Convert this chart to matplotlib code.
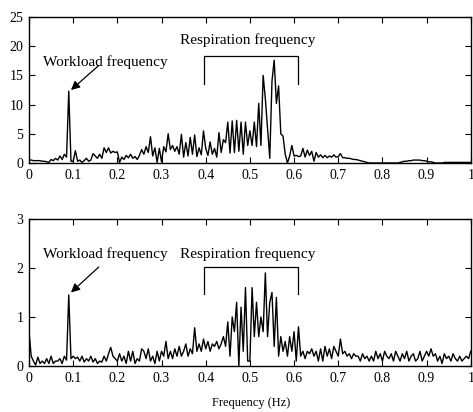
import numpy as np
import matplotlib.pyplot as plt

plt.rcParams['font.family'] = ['Liberation Serif', 'DejaVu Serif']

# frequency grid (Hz), 0.005 Hz resolution
freq = np.linspace(0, 1, 201)

# upper spectrum
top_vals = [
    0.5, 0.5, 0.4, 0.4, 0.4, 0.4, 0.3, 0.3, 0.2, 0.1,
    0.6, 0.4, 0.8, 0.5, 1.2, 0.6, 1.5, 1.0, 12.3, 0.3,
    0.3, 2.1, 0.3, 0.5, 0.1, 0.4, 0.8, 0.3, 0.5, 1.6,
    1.2, 0.8, 1.5, 0.8, 2.6, 1.8, 2.6, 1.7, 2.0, 1.8,
    1.9, 0.1, 1.0, 0.6, 1.3, 0.9, 1.5, 0.8, 1.1, 0.6,
    1.3, 2.3, 1.5, 2.8, 1.8, 4.5, 1.2, 2.6, 0.1, 2.5,
    0.2, 2.8, 1.9, 5.0, 2.3, 3.0, 2.0, 2.8, 1.5, 4.9,
    1.0, 3.5, 1.2, 4.4, 1.5, 4.8, 1.1, 2.6, 1.4, 5.5,
    2.5, 1.3, 3.6, 1.5, 2.5, 1.0, 5.2, 1.8, 4.0, 3.5,
    7.0, 1.7, 7.2, 1.8, 7.3, 2.0, 7.0, 1.5, 7.0, 3.0,
    5.5, 3.0, 7.0, 2.8, 10.2, 3.0, 15.0, 11.0, 6.0, 0.8,
    14.0, 17.6, 10.2, 13.2, 5.0, 4.6, 1.5, 0.0, 1.2, 3.0,
    1.2, 1.3, 1.1, 1.2, 2.5, 1.0, 2.2, 1.3, 2.0, 0.3,
    1.8, 1.0, 1.4, 0.9, 1.3, 0.9, 1.2, 1.0, 1.4, 1.0,
    1.1, 1.6, 0.9, 0.9, 0.8, 0.8, 0.7, 0.6, 0.6, 0.5,
    0.4, 0.3, 0.2, 0.1, 0.0, 0.0, 0.0, 0.0, 0.0, 0.0,
    0.0, 0.0, 0.0, 0.0, 0.0, 0.0, 0.0, 0.0, 0.1, 0.2,
    0.3, 0.3, 0.4, 0.4, 0.5, 0.5, 0.5, 0.5, 0.4, 0.4,
    0.3, 0.2, 0.2, 0.1, 0.0, 0.0, 0.0, 0.0, 0.1, 0.1,
    0.1, 0.1, 0.1, 0.1, 0.1, 0.1, 0.1, 0.1, 0.1, 0.1, 0.1,
]

# lower spectrum
bot_vals = [
    0.7, 0.2, 0.1, 0.02, 0.18, 0.05, 0.1, 0.05, 0.15, 0.05,
    0.2, 0.05, 0.1, 0.1, 0.15, 0.05, 0.2, 0.12, 1.45, 0.15,
    0.2, 0.15, 0.18, 0.1, 0.2, 0.08, 0.15, 0.1, 0.2, 0.08,
    0.15, 0.05, 0.1, 0.08, 0.2, 0.1, 0.25, 0.38, 0.2, 0.15,
    0.1, 0.25, 0.1, 0.2, 0.05, 0.3, 0.1, 0.3, 0.05, 0.15,
    0.1, 0.35, 0.3, 0.15, 0.35, 0.1, 0.2, 0.05, 0.3, 0.1,
    0.3, 0.2, 0.5, 0.15, 0.3, 0.15, 0.35, 0.2, 0.4, 0.2,
    0.3, 0.45, 0.2, 0.35, 0.25, 0.78, 0.3, 0.45, 0.3, 0.55,
    0.35, 0.5, 0.3, 0.45, 0.4, 0.5, 0.35, 0.45, 0.6, 0.4,
    0.9, 0.2, 1.0, 0.7, 1.3, 0.0, 1.2, 0.3, 1.6, 0.1,
    0.1, 1.6, 0.6, 1.3, 0.6, 1.0, 0.7, 1.9, 0.6, 1.3,
    1.5, 0.4, 1.4, 0.2, 0.6, 0.3, 0.5, 0.2, 0.6, 0.3,
    0.7, 0.1, 0.8, 0.2, 0.3, 0.15, 0.3, 0.25, 0.35, 0.2,
    0.3, 0.1, 0.35, 0.1, 0.4, 0.2, 0.35, 0.15, 0.4, 0.3,
    0.2, 0.55, 0.25, 0.3, 0.2, 0.25, 0.15, 0.25, 0.2, 0.2,
    0.1, 0.25, 0.15, 0.2, 0.1, 0.2, 0.1, 0.3, 0.15, 0.25,
    0.1, 0.3, 0.2, 0.15, 0.25, 0.1, 0.3, 0.2, 0.1, 0.25,
    0.15, 0.3, 0.1, 0.2, 0.25, 0.1, 0.15, 0.3, 0.1, 0.2,
    0.3, 0.2, 0.35, 0.2, 0.25, 0.1, 0.2, 0.05, 0.25, 0.15,
    0.2, 0.1, 0.25, 0.15, 0.1, 0.2, 0.1, 0.15, 0.2, 0.15, 0.3,
]

xticks = [0, 0.1, 0.2, 0.3, 0.4, 0.5, 0.6, 0.7, 0.8, 0.9, 1]
xticklabels = ['0', '0.1', '0.2', '0.3', '0.4', '0.5', '0.6', '0.7', '0.8', '0.9', '1']

# annotation settings per panel: ylim, yticks, text y, arrow start/end, bracket y, bracket bottom
panels = [
    dict(vals=top_vals, ylim=25, yticks=[0, 5, 10, 15, 20, 25],
         wl_text=17.3, arr_from=(0.158, 16.7), arr_to=(0.095, 12.5),
         resp_text=21.0, br_top=18.3, br_bot=13.5),
    dict(vals=bot_vals, ylim=3, yticks=[0, 1, 2, 3],
         wl_text=2.29, arr_from=(0.158, 2.02), arr_to=(0.095, 1.5),
         resp_text=2.29, br_top=2.03, br_bot=1.47),
]

fig = plt.figure(figsize=(4.73, 4.12), dpi=100)
rects = [[0.0613, 0.6044, 0.934, 0.3544], [0.0613, 0.1117, 0.934, 0.3568]]

for rect, p in zip(rects, panels):
    ax = fig.add_axes(rect)
    ax.plot(freq, p['vals'], color='black', lw=1.0)
    ax.set_xlim(0, 1)
    ax.set_ylim(0, p['ylim'])
    ax.set_xticks(xticks)
    ax.set_xticklabels(xticklabels)
    ax.set_yticks(p['yticks'])
    ax.tick_params(direction='in', top=True, right=True, length=4, labelsize=10, pad=4)
    for s in ax.spines.values():
        s.set_linewidth(1.0)

    ax.text(0.172, p['wl_text'], 'Workload frequency', ha='center', va='center', fontsize=11)
    ax.annotate('', xy=p['arr_to'], xytext=p['arr_from'],
                arrowprops=dict(arrowstyle='-|>', color='black', lw=0.9,
                                mutation_scale=13, shrinkA=0, shrinkB=0))
    ax.text(0.496, p['resp_text'], 'Respiration frequency', ha='center', va='center', fontsize=11)
    ax.plot([0.397, 0.397, 0.608, 0.608],
            [p['br_bot'], p['br_top'], p['br_top'], p['br_bot']],
            color='black', lw=0.9)

fig.text(0.53, 0.022, 'Frequency (Hz)', ha='center', va='center', fontsize=9)

fig.savefig('out.png', dpi=100)
